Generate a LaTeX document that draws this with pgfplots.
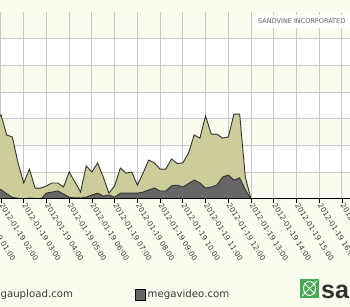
\documentclass[border=0pt]{standalone}
\usepackage{fontspec}
\setmainfont{DejaVu Sans}
\newfontfamily\logofont{Liberation Sans}
\usepackage{pgfplots}
\pgfplotsset{compat=1.18}
\usetikzlibrary{backgrounds}
\definecolor{bg}{RGB}{248,253,240}
\definecolor{tan}{RGB}{205,204,155}
\definecolor{dgray}{RGB}{102,102,102}
\definecolor{outl}{RGB}{50,50,50}
\definecolor{gridc}{RGB}{200,200,200}
\definecolor{txt}{RGB}{55,55,55}
\definecolor{logog}{RGB}{70,170,80}
\begin{document}
\begin{tikzpicture}[x=1pt,y=1pt]
\begin{axis}[
  scale only axis, width=409.14pt, height=186.9pt,
  xmin=0.5, xmax=18.5, ymin=0, ymax=7,
  axis line style={draw=none},
  xtick={1,...,18},
  xticklabels={2012-01-19 01:00,2012-01-19 02:00,2012-01-19 03:00,2012-01-19 04:00,2012-01-19 05:00,2012-01-19 06:00,2012-01-19 07:00,2012-01-19 08:00,2012-01-19 09:00,2012-01-19 10:00,2012-01-19 11:00,2012-01-19 12:00,2012-01-19 13:00,2012-01-19 14:00,2012-01-19 15:00,2012-01-19 16:00,2012-01-19 17:00,2012-01-19 18:00},
  xticklabel style={rotate=-58, anchor=west, font=\fontsize{7.3}{8}\selectfont, text=txt, inner sep=1pt},
  xtick pos=bottom, tick align=outside, major tick length=4pt,
  x tick style={black, line width=0.8pt},
  ytick={1,...,6}, yticklabel={}, y tick style={draw=none},
  grid=major, major grid style={gridc, line width=1pt},
  legend columns=2,
  legend style={draw=none, fill=none, at={(axis description cs:0.654,-0.511)}, anchor=east,
    font=\fontsize{10.2}{12}\selectfont, text=txt,
    /tikz/every even column/.append style={column sep=60pt}},
  legend image code/.code={\draw[#1, draw=black, line width=0.6pt] (0pt,-5.5pt) rectangle (10pt,5.5pt);},
]
\addplot[fill=tan, draw=outl, line width=0.9pt] coordinates {
(1.75,2.9) (2.0,3.15) (2.25,2.40) (2.5,2.32) (2.75,1.35) (3.0,0.60) (3.25,1.12) (3.5,0.41) (3.75,0.41) (4.0,0.49) (4.25,0.60) (4.5,0.60) (4.75,0.45) (5.0,1.01) (5.25,0.64) (5.5,0.26) (5.75,1.24) (6.0,1.01) (6.25,1.35) (6.5,0.82) (6.75,0.22) (7.0,0.49) (7.25,1.16) (7.5,0.97) (7.75,1.01) (8.0,0.52) (8.25,0.97) (8.5,1.46) (8.75,1.35) (9.0,1.12) (9.25,1.12) (9.5,1.50) (9.75,1.33) (10.0,1.35) (10.25,1.72) (10.5,2.40) (10.75,2.28) (11.0,3.11) (11.25,2.43) (11.5,2.43) (11.75,2.28) (12.0,2.32) (12.25,3.18) (12.5,3.18) (12.75,0.82) (13.0,0)
} \closedcycle;
\addlegendentry{megaupload.com}
\addplot[fill=dgray, draw=outl, line width=0.9pt] coordinates {
(1.75,0.40) (2.0,0.35) (2.25,0.20) (2.5,0.06) (2.75,0.03) (3.0,0) (3.25,0.04) (3.5,0.02) (3.75,0) (4.0,0.22) (4.25,0.26) (4.5,0.30) (4.75,0.19) (5.0,0.07) (5.25,0.04) (5.5,0.04) (5.75,0.07) (6.0,0.15) (6.25,0.22) (6.5,0.11) (6.75,0.15) (7.0,0.07) (7.25,0.22) (7.5,0.22) (7.75,0.22) (8.0,0.22) (8.25,0.26) (8.5,0.34) (8.75,0.41) (9.0,0.30) (9.25,0.30) (9.5,0.49) (9.75,0.52) (10.0,0.45) (10.25,0.58) (10.5,0.71) (10.75,0.60) (11.0,0.41) (11.25,0.45) (11.5,0.52) (11.75,0.82) (12.0,0.90) (12.25,0.71) (12.5,0.79) (12.75,0.34) (13.0,0)
} \closedcycle;
\addlegendentry{megavideo.com}
\draw[black, line width=1.2pt] (rel axis cs:0,0) -- (rel axis cs:1,0);
\coordinate (O) at (rel axis cs:0,0);
\end{axis}
% frame of the picture: pixel coordinates, origin bottom-left
\begin{scope}[on background layer, shift={(O)}, xshift=33.1pt, yshift=-108pt]
\fill[bg] (-5,-5) rectangle (355,312);
\fill[white] (-5,134.7) rectangle (355,161.4);
\fill[white] (-5,188.1) rectangle (355,214.8);
\fill[white] (-5,241.5) rectangle (355,268.2);
\end{scope}
\begin{scope}[shift={(O)}, xshift=33.1pt, yshift=-108pt]
% watermark box
\fill[white] (256,279) rectangle (355,292);
\node[anchor=west, inner sep=0pt, text=txt!80, font=\fontsize{6.5}{7}\selectfont] at (258,285.5) {SANDVINE INCORPORATED};
% logo
\fill[logog] (300,9) rectangle (319,28);
\draw[white, line width=1pt] (309.5,18.5) ellipse (6pt and 7pt);
\draw[white, line width=0.8pt] (302,11) -- (317,26);
\draw[white, line width=0.8pt] (304,24) -- (315,13);
\node[anchor=base west, inner sep=0pt, text=outl, font=\logofont\bfseries\fontsize{25}{25}\selectfont] at (321,9) {san};
\coordinate (P0) at (0,0);
\coordinate (P1) at (350,307);
\end{scope}
\pgfresetboundingbox
\path[use as bounding box] (P0) rectangle (P1);
\end{tikzpicture}
\end{document}
